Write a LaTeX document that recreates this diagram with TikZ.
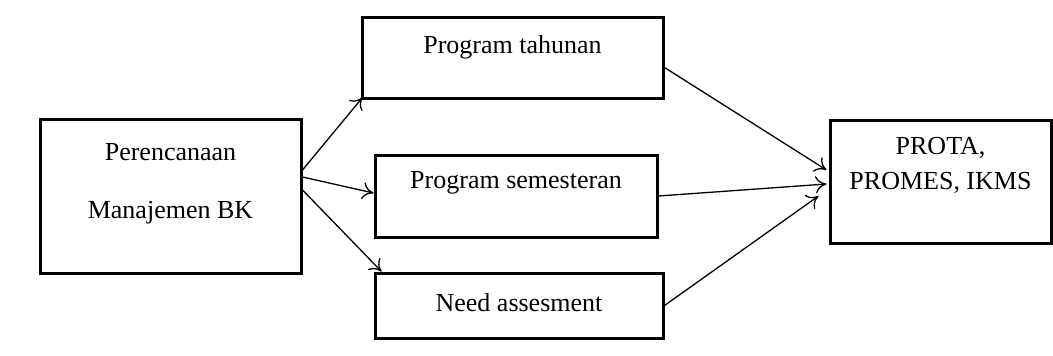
\documentclass[tikz,border=0pt]{standalone}
\usepackage{fontspec}
\setmainfont{Liberation Serif}
\usetikzlibrary{arrows.meta}

\tikzset{
  box/.style={draw, line width=3pt, fill=white, inner sep=0pt},
  link/.style={line width=1.3pt, ->, >={To[length=11pt,width=17pt]}},
}

\begin{document}
\begin{tikzpicture}[x=1pt, y=-1pt, font=\fontsize{26}{31}\selectfont]
    \useasboundingbox (0,0) rectangle (1053,356);

    % boxes
    \node[box, minimum width=261pt, minimum height=154pt,
      label={[yshift=12pt, align=center]center:Perencanaan\\[27pt]Manajemen BK}] (plan) at (170.5,196) {};
    \node[box, minimum width=301pt, minimum height=81pt,
      label={[yshift=10.5pt]center:Program tahunan}] (tahunan) at (512.5,57.5) {};
    \node[box, minimum width=282pt, minimum height=82pt,
      label={[yshift=13pt]center:Program semesteran}] (semester) at (516,196) {};
    \node[box, minimum width=288pt, minimum height=65pt,
      label={[yshift=3pt]center:Need assesment}] (need) at (519,305.5) {};
    \node[box, minimum width=221pt, minimum height=123pt,
      label={[yshift=16pt, align=center]center:PROTA,\\[4pt]PROMES, IKMS}] (prota) at (940.5,181.5) {};

    % arrows out of the plan
    \draw[link] ([yshift=26pt]plan.east) -- ([xshift=2pt,yshift=2pt]tahunan.south west);
    \draw[link] ([yshift=19pt]plan.east) -- ([yshift=3pt]semester.west);
    \draw[link] ([yshift=6pt]plan.east) -- ([xshift=8pt]need.north west);

    % arrows into the result
    \draw[link] ([yshift=-10pt]tahunan.east) -- ([xshift=-2pt,yshift=11.5pt]prota.west);
    \draw[link] (semester.east) -- ([xshift=-2pt,yshift=-2.5pt]prota.west);
    \draw[link] (need.east) -- ([xshift=-10pt,yshift=-14.5pt]prota.west);
\end{tikzpicture}
\end{document}
